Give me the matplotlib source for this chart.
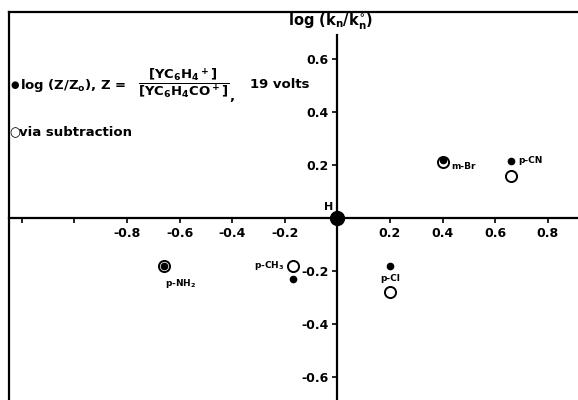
import matplotlib
matplotlib.use("Agg")
from matplotlib import pyplot as plt

# substituent constants (x) and the two log ratios (y)
substituents = ["H", "m-Br", "p-CN", "p-Cl", "p-CH3", "p-NH2"]
sigma = [0.0, 0.40, 0.66, 0.20, -0.17, -0.66]
log_z_ratio = [0.0, 0.22, 0.215, -0.18, -0.23, -0.18]       # filled dots, 19 volts
log_subtraction = [0.0, 0.21, 0.16, -0.28, -0.18, -0.18]    # open circles, via subtraction

x_ticks = [-1.2, -1.0, -0.8, -0.6, -0.4, -0.2, 0.2, 0.4, 0.6, 0.8]
x_tick_labels = ["", "", "-0.8", "-0.6", "-0.4", "-0.2", "0.2", "0.4", "0.6", "0.8"]
y_ticks = [-0.6, -0.4, -0.2, 0.2, 0.4, 0.6]
y_tick_labels = ["-0.6", "-0.4", "-0.2", "0.2", "0.4", "0.6"]

point_names = {"p-CH3": "p-CH$_3$", "p-NH2": "p-NH$_2$"}
# label offsets in points, alignment
label_pos = {
    "H": ((-6, 8), "center"),
    "m-Br": ((6, -5), "left"),
    "p-CN": ((5, 0), "left"),
    "p-Cl": ((0, -9), "center"),
    "p-CH3": ((-6, 0), "right"),
    "p-NH2": ((12, -13), "center"),
}

plt.rcParams["font.family"] = "DejaVu Sans"
plt.rcParams["font.weight"] = "bold"
plt.rcParams["mathtext.fontset"] = "dejavusans"
plt.rcParams["mathtext.default"] = "bf"

W, H = 578, 400
fig = plt.figure(figsize=(W / 100, H / 100), dpi=100)
ax = fig.add_axes([9 / W, 0, 1 - 9 / W, 1 - 12 / H])
ax.set_xlim(-1.249, 0.915)
ax.set_ylim(-0.687, 0.777)

# axes through the origin, frame on top and left
ax.spines["left"].set_position(("data", 0))
ax.spines["bottom"].set_position(("data", 0))
ax.spines["right"].set_visible(False)
ax.spines["left"].set_bounds(-0.687, 0.69)
for s in ["left", "bottom", "top"]:
    ax.spines[s].set_linewidth(1.6)
ax.plot([0, 0], [0, 1], transform=ax.transAxes, color="k", lw=1.6, clip_on=False)

ax.set_xticks(x_ticks)
ax.set_xticklabels(x_tick_labels)
ax.set_yticks(y_ticks)
ax.set_yticklabels(y_tick_labels)
ax.tick_params(direction="out", length=3.5, width=1.2, labelsize=9, pad=3)

others = [i for i in range(len(substituents)) if substituents[i] != "H"]
ax.plot([sigma[i] for i in others], [log_z_ratio[i] for i in others], "o",
        color="k", ms=4.5, ls="none", zorder=3)
ax.plot([sigma[i] for i in others], [log_subtraction[i] for i in others], "o",
        mfc="none", mec="k", mew=1.4, ms=8, ls="none", zorder=3)
h = substituents.index("H")
ax.plot(sigma[h], log_z_ratio[h], "o", color="k", ms=10, zorder=4, clip_on=False)

for i, name in enumerate(substituents):
    (dx, dy), ha = label_pos[name]
    ref_y = log_subtraction[i] if name in ("p-CH3",) else log_z_ratio[i]
    ax.annotate(point_names.get(name, name), (sigma[i], ref_y), xytext=(dx, dy),
                textcoords="offset points", ha=ha, va="center",
                fontsize=8 if name == "H" else 6.5)


def fpos(px, py):
    return px / W, 1 - py / H


ax.text(*fpos(331, 22), r"log (k$_n$/k$_n^{\circ}$)", transform=fig.transFigure,
        ha="center", va="center", fontsize=10.5)

ax.text(*fpos(10, 85), "\u25cf", transform=fig.transFigure,
        ha="left", va="center", fontsize=7)
ax.text(*fpos(20, 85), "log (Z/Z$_o$), Z =", transform=fig.transFigure,
        ha="left", va="center", fontsize=9.5)
ax.text(*fpos(184, 84), r"$\dfrac{[YC_6H_4{}^+]}{[YC_6H_4CO^+]}$", transform=fig.transFigure,
        ha="center", va="center", fontsize=9.5)
ax.text(*fpos(229, 97), ",", transform=fig.transFigure, ha="left", va="center", fontsize=9.5)
ax.text(*fpos(250, 85), "19 volts", transform=fig.transFigure,
        ha="left", va="center", fontsize=9.5)
ax.text(*fpos(9, 133), "\u25cb", transform=fig.transFigure,
        ha="left", va="center", fontsize=9)
ax.text(*fpos(19, 133), "via subtraction", transform=fig.transFigure,
        ha="left", va="center", fontsize=9.5)

fig.savefig("out.png", dpi=100)
